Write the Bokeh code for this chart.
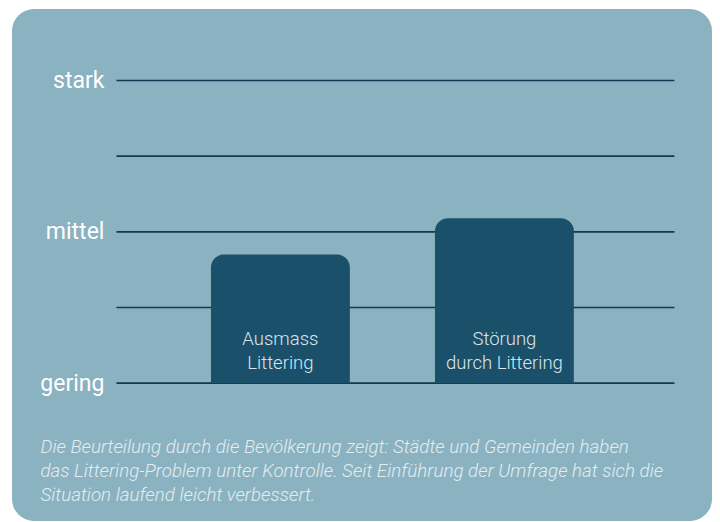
from bokeh.plotting import figure
from bokeh.models import Range1d
from bokeh.core.properties import value
from bokeh.embed import file_html
from bokeh.resources import INLINE

# ---- data ----
cat_line1 = ["Ausmass", "Störung"]
cat_line2 = ["Littering", "durch Littering"]
cat_pos = [1, 2]
scores = [1.85, 2.09]
level_names = ["gering", "mittel", "stark"]
level_values = [1, 2, 3]
grid_values = [1, 1.5, 2, 2.5, 3]
caption_lines = [
    "Die Beurteilung durch die Bevölkerung zeigt: Städte und Gemeinden haben",
    "das Littering-Problem unter Kontrolle. Seit Einführung der Umfrage hat sich die",
    "Situation laufend leicht verbessert.",
]

BG = "#8ab2c0"
BAR = "#1b506b"
LINE = "#0d3b51"

# extent of the plotting area (grid lines) in category units
AREA_X0, AREA_X1 = 0.268, 2.759

p = figure(width=700, height=512, output_backend="svg", toolbar_location=None,
           x_range=Range1d(-0.196, 2.929), y_range=Range1d(0.086, 3.469),
           x_axis_location=None, y_axis_location=None,
           min_border=0, min_border_left=0, min_border_right=0,
           min_border_top=0, min_border_bottom=0,
           background_fill_color=None, border_fill_color=None,
           outline_line_color=None)
p.margin = (9, 0, 0, 12)
p.styles = {"background-color": BG, "border-radius": "22px", "overflow": "hidden"}
p.xgrid.visible = False
p.ygrid.visible = False

# horizontal grid lines
p.segment(x0=[AREA_X0] * len(grid_values), x1=[AREA_X1] * len(grid_values),
          y0=grid_values, y1=grid_values, line_color=LINE, line_width=1.6)

p.vbar(x=cat_pos, top=scores, bottom=1, width=0.62, fill_color=BAR,
       line_color=None, border_radius=(13, 13, 0, 0))

bar_font = value("Roboto Light, Roboto")
p.text(x=cat_pos, y=[1, 1], text=cat_line1, text_align="center",
       text_baseline="alphabetic", y_offset=-44, text_font=bar_font,
       text_font_size="18.5px", text_color="#d8e6ec")
p.text(x=cat_pos, y=[1, 1], text=cat_line2, text_align="center",
       text_baseline="alphabetic", y_offset=-20, text_font=bar_font,
       text_font_size="18.5px", text_color="#d8e6ec")

# level labels
p.text(x=[AREA_X0] * len(level_values), y=level_values, text=level_names,
       x_offset=-12, text_align="right", text_baseline="alphabetic",
       text_font=value("Roboto"), text_font_size="23px",
       text_color="white")

# caption
n = len(caption_lines)
p.text(x=[AREA_X0] * n, y=[1] * n, text=caption_lines,
       x_offset=-76, y_offset=[64 + 24 * i for i in range(n)],
       text_align="left", text_baseline="alphabetic",
       text_font=bar_font, text_font_style="italic",
       text_font_size="18.8px", text_color="#e2edf1")

open("out.html", "w").write(file_html(p, INLINE))
